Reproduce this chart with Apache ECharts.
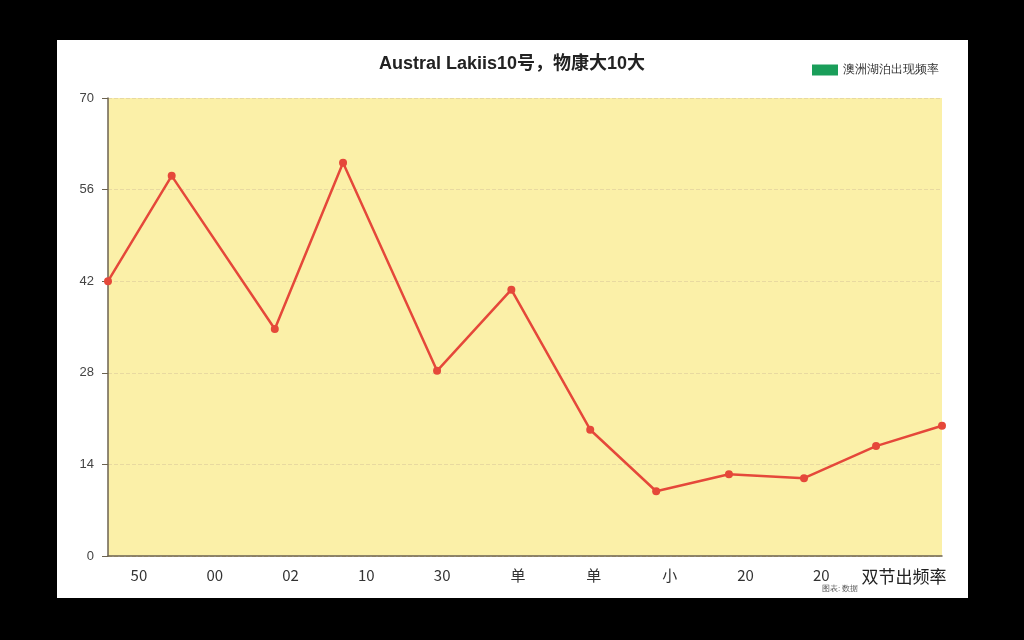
<!DOCTYPE html>
<html>
<head>
<meta charset="utf-8">
<script src="https://cdn.jsdelivr.net/npm/echarts@6/dist/echarts.min.js"></script>
<style>
html,body{margin:0;padding:0;background:#000;}
#chart{width:1024px;height:640px;}
</style>
</head>
<body>
<div id="chart"></div>
<script>
const titleText = 'Austral Lakiis10号，物康大10大';
const legendName = '澳洲湖泊出现频率';
const categories = ['50','00','02','10','30','单','单','小','20','20','双节出频率'];
const pointX = [0, 0.84, 2.2, 3.1, 4.34, 5.32, 6.36, 7.23, 8.19, 9.18, 10.13, 11];
const values = [42.0, 58.1, 34.7, 60.1, 28.3, 40.7, 19.3, 9.9, 12.5, 11.9, 16.8, 19.9];
const yTicks = [0, 14, 28, 42, 56, 70];
const sourceNote = '图表: 数据';

const chart = echarts.init(document.getElementById('chart'));
const seriesData = pointX.map((x, i) => [x, values[i]]);

chart.setOption({
  backgroundColor: '#000',
  animation: false,
  graphic: [
    {type: 'rect', z: -10, shape: {x: 57, y: 40, width: 911, height: 558}, style: {fill: '#fff'}},
    {type: 'text', left: 822, top: 585, style: {text: sourceNote, fontSize: 8, fill: '#555'}}
  ],
  title: {
    text: titleText, left: 'center', top: 50,
    textStyle: {fontSize: 18, fontWeight: 'bold', color: '#222', fontFamily: 'Liberation Sans, Noto Sans CJK SC'}
  },
  legend: {
    right: 80, top: 59, itemWidth: 26, itemHeight: 11, icon: 'rect',
    textStyle: {fontSize: 12, color: '#333'},
    data: [{name: legendName, itemStyle: {color: '#1a9e5a'}}]
  },
  grid: {left: 108, right: 82, top: 98, bottom: 84, show: true, backgroundColor: '#fbf0a8', borderWidth: 0},
  xAxis: [
    {
      type: 'category', data: categories, boundaryGap: true,
      axisLine: {lineStyle: {color: '#6b6250', width: 1.5}},
      axisTick: {show: false},
      axisLabel: {
        interval: 0, hideOverlap: false, fontSize: 15, color: '#333', margin: 12,
        fontFamily: 'Noto Sans CJK SC',
        formatter: (v, i) => i === categories.length - 1 ? '{big|' + v + '}' : '{n|' + v + '}',
        rich: {
          big: {fontSize: 17, color: '#222', fontFamily: 'Noto Sans CJK SC'},
          n: {fontSize: 15, color: '#333', fontFamily: 'Noto Sans CJK SC', padding: [0, 14, 0, 0]}
        }
      }
    },
    {
      type: 'value', min: 0, max: 11, show: false, position: 'bottom'
    }
  ],
  yAxis: {
    type: 'value', min: yTicks[0], max: yTicks[yTicks.length - 1], interval: yTicks[1] - yTicks[0],
    axisLine: {show: true, lineStyle: {color: '#6b6250', width: 1.5}},
    axisTick: {show: true, length: 6, lineStyle: {color: '#6b6250'}},
    axisLabel: {fontSize: 13, color: '#444', margin: 14},
    splitLine: {show: true, lineStyle: {type: 'dashed', color: '#e8d9a0'}}
  },
  series: [{
    name: legendName, type: 'line', xAxisIndex: 1, data: seriesData,
    symbol: 'circle', symbolSize: 8,
    lineStyle: {color: '#e5483a', width: 2.5},
    itemStyle: {color: '#e5483a'}
  }]
});
</script>
</body>
</html>
